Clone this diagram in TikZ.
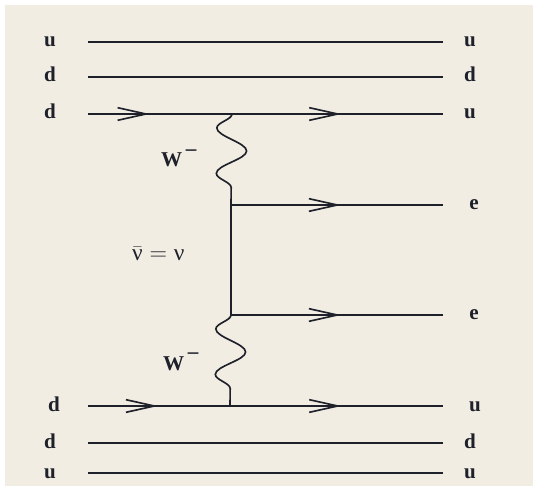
\documentclass[tikz,border=0pt]{standalone}
\usepackage{fontspec}
\setmainfont{Liberation Serif}
\usetikzlibrary{arrows.meta,decorations.pathmorphing,decorations.markings}

\definecolor{paper}{RGB}{242,237,227}
\definecolor{ink}{RGB}{30,32,42}

\tikzset{
  barb/.tip={Straight Barb[length=8.5mm,width=3.8mm]},
  quark/.style={draw=ink,line width=1.4pt},
  arr/.style={postaction={decorate,decoration={markings,mark=at position #1 with {\arrow{barb}}}}},
  boson/.style={draw=ink,line width=1.4pt,decorate,decoration={snake,mirror,segment length=1.36cm,amplitude=0.45cm}},
  lbl/.style={text=ink,font=\fontsize{18}{20}\selectfont\bfseries,anchor=base,inner sep=0pt}
}

\begin{document}
\begin{tikzpicture}[x=0.03cm,y=-0.03cm]
\fill[white] (0,0) rectangle (533,486);
\fill[paper] (5,5) rectangle (533,486);
\useasboundingbox (0,0) rectangle (533,486);

% spectator quarks
\foreach \y/\q/\n in {42/u/1,77/d/2,443/d/5,473/u/6}{
  \coordinate (a\n) at (88,\y);
  \coordinate (b\n) at (443,\y);
  \draw[quark] (a\n) -- (b\n);
  \node[lbl] (in\n) at (50,\y+5) {\q};
  \node[lbl] (out\n) at (470,\y+5) {\q};
}

% vertices
\coordinate (v1) at (232,114);
\coordinate (v2) at (231,205);
\coordinate (v3) at (231,315);
\coordinate (v4) at (230,406);

% active quarks
\coordinate (a3) at (88,114);
\coordinate (b3) at (443,114);
\coordinate (a4) at (88,406);
\coordinate (b4) at (443,406);
\draw[quark,arr=1.85cm,arr=7.6cm] (a3) -- (b3);
\draw[quark,arr=2.1cm,arr=7.6cm] (a4) -- (b4);
\node[lbl] (in3) at (50,119) {d};
\node[lbl] (out3) at (470,119) {u};
\node[lbl] (in4) at (54,411) {d};
\node[lbl] (out4) at (475,411) {u};

% electrons
\coordinate (e1) at (443,205);
\coordinate (e2) at (443,315);
\draw[quark,arr=3.3cm] (v2) -- (e1);
\draw[quark,arr=3.3cm] (v3) -- (e2);
\node[lbl] (oute1) at (474,210) {e};
\node[lbl] (oute2) at (474,320) {e};

% neutrino and W's
\draw[quark] (v2) -- (v3);
\draw[boson] (v1) -- (v2);
\draw[boson] (v3) -- (v4);
\node[lbl,anchor=base west] (w1) at (161,167) {W\raisebox{1.2ex}{\,--}};
\node[lbl,anchor=base west] (w2) at (163,370) {W\raisebox{1.2ex}{\,--}};
\node[lbl,anchor=base west,font=\fontsize{20}{22}\selectfont] (nu) at (132,261) {$\bar{\mbox{ν}}=\mbox{ν}$};
\end{tikzpicture}
\end{document}
